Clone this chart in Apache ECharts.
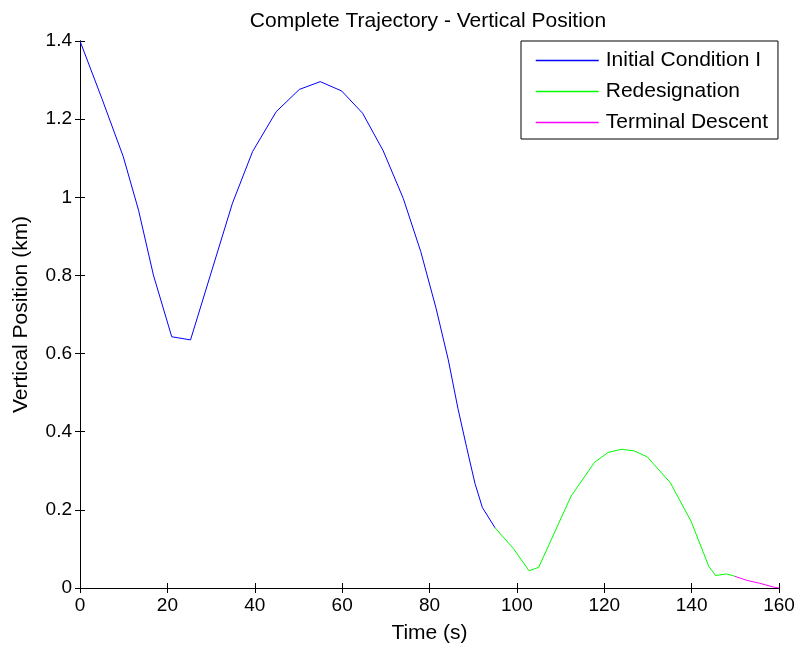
<!DOCTYPE html>
<html>
<head>
<meta charset="utf-8">
<script src="https://cdn.jsdelivr.net/npm/echarts@6/dist/echarts.min.js"></script>
<style>
  html, body { margin: 0; padding: 0; background: #fff; }
  #trajectory_chart { width: 797px; height: 648px; }
</style>
</head>
<body>
<div id="trajectory_chart"></div>
<script>
// 时间(s) / 高度(km) 读自原图
var initialTime = [0, 5, 9.9, 13.4, 16.8, 21.0, 25.3, 34.9, 39.5, 44.9, 50.2, 55.0, 59.9, 64.7, 69.4, 74.0, 78.0, 81.5, 84.3, 86.5, 88.5, 90.4, 92.1, 95.0];
var initialPos = [1.4, 1.253, 1.104, 0.967, 0.801, 0.643, 0.635, 0.985, 1.117, 1.219, 1.276, 1.296, 1.272, 1.215, 1.119, 0.997, 0.861, 0.716, 0.584, 0.46, 0.36, 0.268, 0.206, 0.154];

var redesignTime = [95.0, 99.2, 102.8, 105.0, 112.4, 117.8, 120.9, 123.9, 126.8, 129.8, 135.1, 139.9, 143.9, 145.5, 148.0, 149.9];
var redesignPos = [0.154, 0.101, 0.044, 0.053, 0.235, 0.322, 0.347, 0.355, 0.351, 0.336, 0.27, 0.17, 0.056, 0.032, 0.036, 0.030];

var terminalTime = [149.9, 152.5, 155.6, 158.9, 160];
var terminalPos = [0.030, 0.020, 0.012, 0.002, 0];

var seriesNames = ["Initial Condition I", "Redesignation", "Terminal Descent"];
var seriesColors = ["#0000ff", "#00ff00", "#ff00ff"];

var xTicks = { min: 0, max: 160, interval: 20 };
var yTicks = { min: 0, max: 1.4, interval: 0.2 };

function pairs(t, v) {
  var out = [];
  for (var i = 0; i < t.length; i++) {
    out.push([t[i], v[i]]);
  }
  return out;
}

var myChart = echarts.init(document.getElementById("trajectory_chart"));
var fontName = "Liberation Sans, Arial, sans-serif";
var frameLine = { show: true, lineStyle: { color: "#000", width: 1 } };
var innerTick = { show: true, inside: true, length: 5, lineStyle: { color: "#000" } };

var legendData = seriesNames.map(function(name, i) {
  return {
    name: name,
    itemStyle: { opacity: 0 },
    lineStyle: { color: seriesColors[i], width: 1.5, opacity: 1 }
  };
});

var option = {
  animation: false,
  backgroundColor: "#fff",
  textStyle: { fontFamily: fontName, color: "#000" },
  title: {
    text: "Complete Trajectory - Vertical Position",
    left: 428,
    textAlign: "center",
    top: 11,
    padding: 0,
    textStyle: { fontSize: 21, fontWeight: "normal", color: "#000", fontFamily: fontName }
  },
  legend: {
    orient: "vertical",
    left: 521,
    top: 41,
    padding: [9, 10, 6, 14],
    itemGap: 10,
    itemWidth: 63,
    itemHeight: 14,
    backgroundColor: "#fff",
    borderColor: "#000",
    borderWidth: 1,
    borderRadius: 0,
    textStyle: { fontSize: 21, color: "#000", fontFamily: fontName, padding: [0, 0, 0, 2] },
    data: legendData
  },
  grid: { left: 80, right: 18, top: 41, bottom: 60, containLabel: false, outerBoundsMode: "none" },
  xAxis: [
    {
      type: "value",
      min: xTicks.min,
      max: xTicks.max,
      interval: xTicks.interval,
      name: "Time (s)",
      nameLocation: "middle",
      nameGap: 35,
      nameTextStyle: { fontSize: 21, color: "#000" },
      axisLine: frameLine,
      axisTick: innerTick,
      axisLabel: { fontSize: 19, color: "#000", margin: 8 },
      splitLine: { show: false }
    },
    {
      type: "value",
      position: "top",
      min: xTicks.min,
      max: xTicks.max,
      interval: xTicks.interval,
      axisLine: frameLine,
      axisTick: innerTick,
      axisLabel: { show: false },
      splitLine: { show: false }
    }
  ],
  yAxis: [
    {
      type: "value",
      min: yTicks.min,
      max: yTicks.max,
      interval: yTicks.interval,
      name: "Vertical Position (km)",
      nameLocation: "middle",
      nameGap: 48,
      nameTextStyle: { fontSize: 21, color: "#000" },
      axisLine: frameLine,
      axisTick: innerTick,
      axisLabel: { fontSize: 19, color: "#000", margin: 8 },
      splitLine: { show: false }
    },
    {
      type: "value",
      position: "right",
      min: yTicks.min,
      max: yTicks.max,
      interval: yTicks.interval,
      axisLine: frameLine,
      axisTick: innerTick,
      axisLabel: { show: false },
      splitLine: { show: false }
    }
  ],
  series: [
    {
      name: seriesNames[0],
      type: "line",
      data: pairs(initialTime, initialPos),
      symbol: "none",
      color: seriesColors[0],
      lineStyle: { width: 1, color: seriesColors[0] }
    },
    {
      name: seriesNames[1],
      type: "line",
      data: pairs(redesignTime, redesignPos),
      symbol: "none",
      color: seriesColors[1],
      lineStyle: { width: 1, color: seriesColors[1] }
    },
    {
      name: seriesNames[2],
      type: "line",
      data: pairs(terminalTime, terminalPos),
      symbol: "none",
      color: seriesColors[2],
      lineStyle: { width: 1, color: seriesColors[2] }
    }
  ]
};
myChart.setOption(option);
</script>
</body>
</html>
